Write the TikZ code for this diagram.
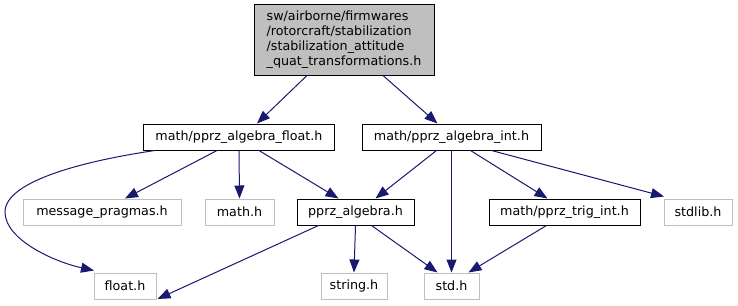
\documentclass[tikz,border=0pt]{standalone}
\usepackage{fontspec}
\setmainfont{DejaVu Sans}
\usetikzlibrary{arrows.meta}
\definecolor{edgeblue}{HTML}{191970}
\definecolor{greyline}{HTML}{BFBFBF}
\begin{document}
\begin{tikzpicture}[x=1pt,y=-1pt,
  every node/.style={font=\fontsize{12.7}{15}\selectfont, inner sep=0pt, anchor=center},
  inc/.style={draw=black, line width=1pt, fill=white, minimum height=26pt},
  ext/.style={draw=greyline, line width=1pt, fill=white, minimum height=26pt},
  dep/.style={draw=edgeblue, line width=1pt, -{Triangle[length=13pt,width=10pt]}}]
\useasboundingbox (0,0) rectangle (738,305);
% file being documented
\node[draw=black, line width=1pt, fill=greyline, minimum width=180pt, minimum height=70pt,
      align=left] (top) at (344,40)
  {sw/airborne/firmwares\\/rotorcraft/stabilization\\/stabilization\_attitude\\\_quat\_transformations.h};
% direct includes
\node[inc, minimum width=191pt] (flt) at (239,137) {math/pprz\_algebra\_float.h};
\node[inc, minimum width=179pt] (int) at (451.5,137) {math/pprz\_algebra\_int.h};
% second level
\node[ext, minimum width=158pt] (msg) at (102,212) {message\_pragmas.h};
\node[ext, minimum width=69pt] (mth) at (239.5,212) {math.h};
\node[inc, minimum width=117pt] (alg) at (355.5,212) {pprz\_algebra.h};
\node[inc, minimum width=151pt] (trg) at (564.5,212) {math/pprz\_trig\_int.h};
\node[ext, minimum width=68pt] (stl) at (698,212) {stdlib.h};
% third level
\node[ext, minimum width=62pt] (fh) at (125,286) {float.h};
\node[ext, minimum width=66pt] (str) at (354,286) {string.h};
\node[ext, minimum width=55pt] (std) at (451.5,286) {std.h};
% dependencies
\draw[dep] ([xshift=-37pt]top.south) -- ([xshift=18pt]flt.north);
\draw[dep] ([xshift=39pt]top.south) -- ([xshift=-14pt]int.north);
\draw[dep] ([xshift=-22pt]flt.south) -- ([xshift=23pt]msg.north);
\draw[dep] (flt.south) -- (mth.north);
\draw[dep] ([xshift=20pt]flt.south) -- ([xshift=-17pt]alg.north);
\draw[dep] ([xshift=-84pt]flt.south) .. controls (90,160) and (5,180) .. (5,212)
  .. controls (5,240) and (55,262) .. ([xshift=-31pt,yshift=2pt]fh.north);
\draw[dep] ([xshift=-15pt]int.south) -- ([xshift=20pt]alg.north);
\draw[dep] (int.south) -- (std.north);
\draw[dep] ([xshift=19pt]int.south) -- ([xshift=-17pt]trg.north);
\draw[dep] ([xshift=40pt]int.south) -- ([xshift=-34pt,yshift=2pt]stl.north);
\draw[dep] ([xshift=-37pt]alg.south) -- ([yshift=-13pt,xshift=1pt]fh.east);
\draw[dep] ([xshift=0pt]alg.south) -- (str.north);
\draw[dep] ([xshift=16pt]alg.south) -- ([xshift=-14pt]std.north);
\draw[dep] ([xshift=-18pt]trg.south) -- ([xshift=17pt]std.north);
\end{tikzpicture}
\end{document}
